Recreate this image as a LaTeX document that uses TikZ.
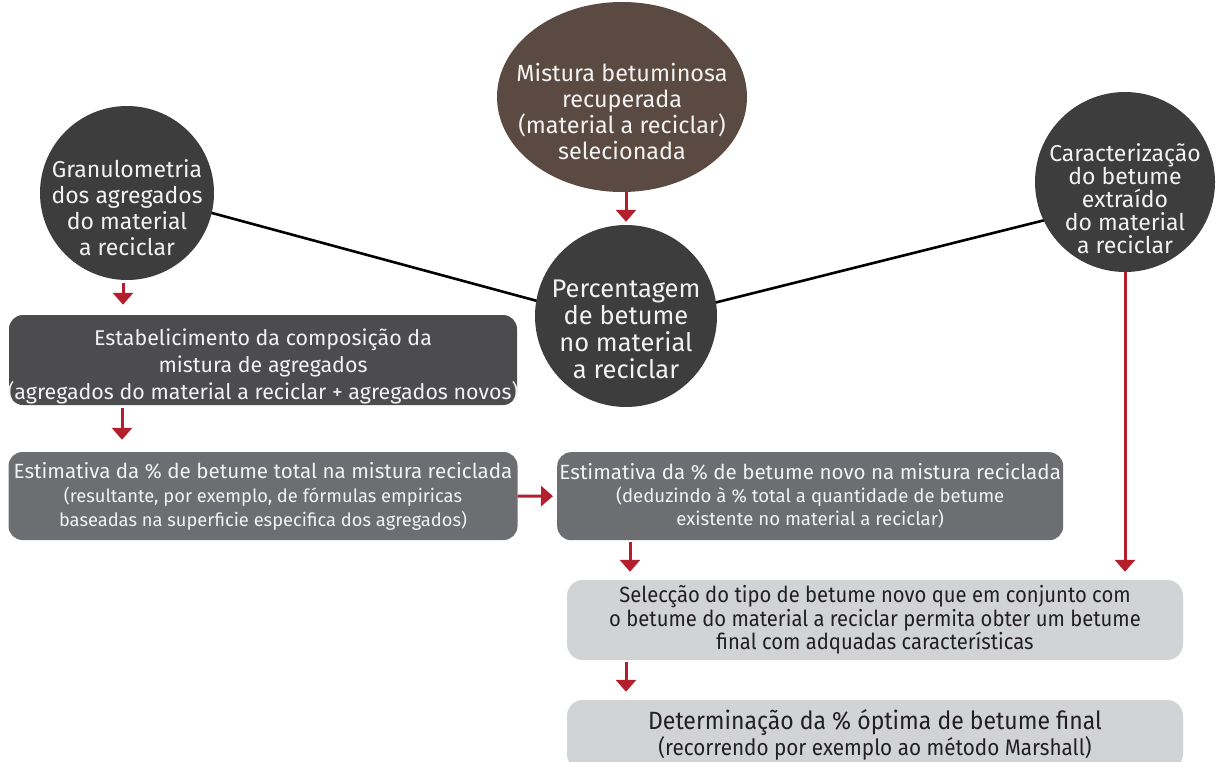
\documentclass[tikz,border=0pt]{standalone}
\usepackage{fontspec}
\setmainfont{Fira Sans}
\newfontfamily\narrowfont[FakeStretch=0.92]{Fira Sans}
\usetikzlibrary{shapes.geometric,arrows.meta,backgrounds}
\definecolor{brownc}{HTML}{5B4A41}
\definecolor{darkc}{HTML}{3D3D3E}
\definecolor{boxa}{HTML}{4C4C4E}
\definecolor{boxb}{HTML}{6D6E71}
\definecolor{boxc}{HTML}{D2D3D5}
\definecolor{redc}{HTML}{B41F2E}
\definecolor{txtl}{HTML}{F2F2F2}
\definecolor{txtd}{HTML}{231F20}
\tikzset{
  bubble/.style={circle,fill=darkc,inner sep=0pt},
  ltext/.style={text=txtl,align=center,inner sep=0pt},
  darkbox/.style={rectangle,rounded corners=14pt,text=txtl,align=center,inner sep=0pt},
  lightbox/.style={rectangle,rounded corners=16pt,fill=boxc,text=txtd,align=center,inner sep=0pt},
  arr/.style={draw=redc,line width=3pt,-{Triangle[width=20pt,length=12pt]}},
  link/.style={draw=black,line width=2.6pt}
}
\begin{document}
\begin{tikzpicture}[x=1pt,y=-1pt]
\useasboundingbox (0,0) rectangle (1217,762);
\clip (0,0) rectangle (1217,762);
% shapes
\node[ellipse,fill=brownc,inner sep=0pt,minimum width=250pt,minimum height=190pt] (top) at (622,97) {};
\node[bubble,minimum size=174pt] (lc) at (127,193) {};
\node[bubble,minimum size=182pt] (cc) at (626,316) {};
\node[bubble,minimum size=180pt] (rc) at (1125,182) {};
% texts of the round shapes
\node[ltext,font=\fontsize{23.4}{26}\selectfont] (topt) at ([yshift=-15pt]top.center)
  {Mistura betuminosa\\recuperada\\(material a reciclar)\\selecionada};
\node[ltext,font=\fontsize{23}{26}\selectfont] (lct) at ([yshift=-15pt]lc.center)
  {Granulometria\\dos agregados\\do material\\a reciclar};
\node[ltext,font=\fontsize{25.5}{27}\selectfont] (cct) at ([yshift=-13pt]cc.center)
  {Percentagem\\de betume\\no material\\a reciclar};
\node[ltext,font=\fontsize{23}{23}\selectfont] (rct) at ([yshift=-17pt]rc.center)
  {Caracterização\\do betume\\extraído\\do material\\a reciclar};
% boxes
\node[darkbox,fill=boxa,minimum width=508pt,minimum height=90pt] (b1) at (263,360) {};
\node[ltext,font=\fontsize{21.4}{27}\selectfont] (b1t) at ([yshift=-6pt]b1.center)
  {Estabelicimento da composição da\\mistura de agregados\\(agregados do material a reciclar + agregados novos)};
\node[darkbox,fill=boxb,minimum width=509pt,minimum height=88pt,font=\fontsize{18.3}{24}\selectfont] (b2) at (263,496)
  {{\fontsize{20.6}{24}\selectfont Estimativa da \% de betume total na mistura reciclada}\\(resultante, por exemplo, de fórmulas empiricas\\baseadas na superficie especifica dos agregados)};
\node[darkbox,fill=boxb,minimum width=506pt,minimum height=88pt,anchor=north west,
  font=\fontsize{18.6}{23}\selectfont] (b3) at (557,452)
  {\makebox[0pt]{\fontsize{20.6}{24}\selectfont Estimativa da \% de betume novo na mistura reciclada}\\(deduzindo à \% total a quantidade de betume\\existente no material a reciclar)};
\node[lightbox,minimum width=616pt,minimum height=80pt,font=\narrowfont\fontsize{22}{23.5}\selectfont] (b4) at (875,620)
  {Selecção do tipo de betume novo que em conjunto com\\o betume do material a reciclar permita obter um betume\\final com adquadas características};
\node[lightbox,minimum width=616pt,minimum height=70pt,font=\narrowfont\fontsize{22.5}{25}\selectfont] (b5) at (875,735)
  {{\fontsize{25}{28}\selectfont Determinação da \% óptima de betume final}\\(recorrendo por exemplo ao método Marshall)};
% links behind
\begin{scope}[on background layer]
  \draw[link] ([yshift=3pt]lc.center) -- ([yshift=-9pt]cc.center);
  \draw[link] ([yshift=-9pt]cc.center) -- ([yshift=-18pt]rc.center);
\end{scope}
% arrows
\draw[arr,shorten >=3pt] (top.south -| cc.center) -- (cc.north);
\draw[arr,shorten <=3pt,shorten >=10pt] ([xshift=-4pt]lc.south) -- ([xshift=-4pt]lc.south |- b1.north);
\draw[arr,shorten <=3pt,shorten >=12pt] ([xshift=-5pt]lc.south |- b1.south) -- ([xshift=-5pt]lc.south |- b2.north);
\draw[arr,shorten >=4pt] (b2.east) -- (b3.west);
\draw[arr,shorten <=2pt,shorten >=8pt] ([xshift=4pt]cc.south |- b3.south) -- ([xshift=4pt]cc.south |- b4.north);
\draw[arr,shorten <=2pt,shorten >=8pt] (cc.south |- b4.south) -- (cc.south |- b5.north);
\draw[arr,shorten >=8pt] (rc.south) -- (rc.south |- b4.north);
\end{tikzpicture}
\end{document}
